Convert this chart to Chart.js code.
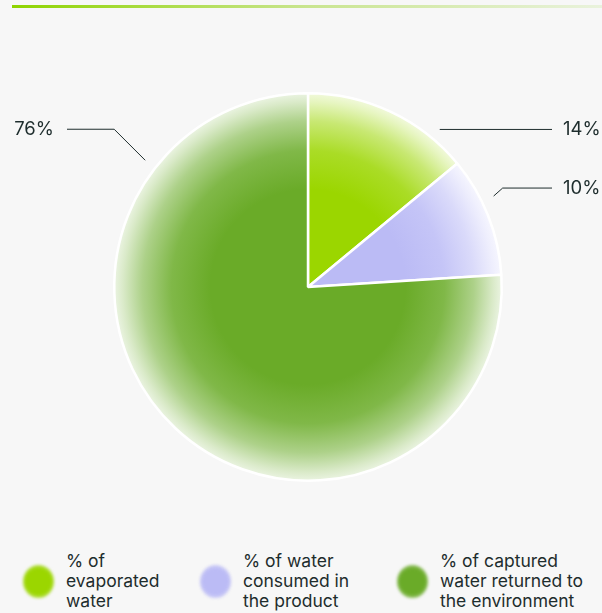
<!DOCTYPE html>
<html>
<head>
<meta charset="utf-8">
<script src="https://cdn.jsdelivr.net/npm/chart.js@4.4.1/dist/chart.umd.min.js"></script>
<style>
  html, body { margin: 0; padding: 0; background: #f7f7f7; }
  body { width: 602px; height: 613px; position: relative; overflow: hidden; font-family: Inter, "Noto Sans", sans-serif; color: #1e2d2d; }
  .topline { position: absolute; left: 12px; top: 5px; width: 590px; height: 3px;
    background: linear-gradient(to right, #8ed400, #c9e58f 50%, #e9f2dc); }
  .chart-box { position: absolute; left: 0; top: 0; width: 602px; height: 530px; }
  .legend { position: absolute; left: 0; top: 551px; width: 602px; }
  .item { position: absolute; top: 0; display: flex; align-items: center; }
  .dot { width: 31px; height: 33px; border-radius: 50%; filter: blur(1.5px); margin-right: 12px; }
  .txt { font-size: 17.5px; line-height: 20px; }
</style>
</head>
<body>
<div class="topline"></div>
<div class="chart-box"><canvas id="waterChart"></canvas></div>
<div class="legend" id="legend"></div>
<script>
// Water balance shares
const categories = ['% of evaporated water', '% of water consumed in the product', '% of captured water returned to the environment'];
const legendLines = [['% of', 'evaporated', 'water'], ['% of water', 'consumed in', 'the product'], ['% of captured', 'water returned to', 'the environment']];
const shares = [14, 10, 76];
const sliceColors = [[155, 214, 0], [187, 187, 245], [106, 171, 40]];

// Where each percentage callout sits: anchor on the rim (angle in degrees, radius factor),
// optional elbow, horizontal run end, and text x
const callouts = [
  { angle: -50.1, k: 1.06, elbow: null, endX: 552, textX: 563, align: 'left' },
  { angle: -26.1, k: 1.067, elbow: [9, -8], endX: 552, textX: 563, align: 'left' },
  { angle: -142.1, k: 1.065, elbow: [-31, -31], endX: 67, textX: 54, align: 'right' }
];

// blend a colour towards white; amount = share of the original colour kept
function toWhite(rgb, amount) {
  const c = rgb.map(v => Math.round(255 - (255 - v) * amount));
  return 'rgb(' + c.join(',') + ')';
}

function sliceFill(context) {
  const chart = context.chart;
  const area = chart.chartArea;
  const rgb = sliceColors[context.dataIndex];
  if (!area) return toWhite(rgb, 1);
  const cx = (area.left + area.right) / 2;
  const cy = (area.top + area.bottom) / 2;
  const r = Math.min(area.width, area.height) / 2;
  const g = chart.ctx.createRadialGradient(cx, cy, 0, cx, cy, r);
  g.addColorStop(0, toWhite(rgb, 1));
  g.addColorStop(0.5, toWhite(rgb, 1));
  g.addColorStop(0.7, toWhite(rgb, 0.85));
  g.addColorStop(0.85, toWhite(rgb, 0.55));
  g.addColorStop(0.95, toWhite(rgb, 0.25));
  g.addColorStop(1, toWhite(rgb, 0.12));
  return g;
}

// Leader lines and percentage labels
const calloutPlugin = {
  id: 'callouts',
  afterDatasetsDraw(chart) {
    const ctx = chart.ctx;
    const arc = chart.getDatasetMeta(0).data[0];
    const cx = arc.x, cy = arc.y, R = arc.outerRadius;
    ctx.save();
    ctx.strokeStyle = '#1e2d2d';
    ctx.lineWidth = 1;
    ctx.fillStyle = '#1e2d2d';
    ctx.font = '18.5px Inter, "Noto Sans", sans-serif';
    ctx.textBaseline = 'middle';
    shares.forEach((v, i) => {
      const c = callouts[i];
      const a = c.angle * Math.PI / 180;
      let x = cx + Math.cos(a) * R * c.k;
      let y = cy + Math.sin(a) * R * c.k;
      ctx.beginPath();
      ctx.moveTo(x, y);
      if (c.elbow) {
        x += c.elbow[0];
        y += c.elbow[1];
        ctx.lineTo(x, y);
      }
      ctx.lineTo(c.endX, y);
      ctx.stroke();
      ctx.textAlign = c.align;
      ctx.fillText(v + '%', c.textX, y);
    });
    ctx.restore();
  }
};

new Chart(document.getElementById('waterChart'), {
  type: 'pie',
  data: {
    labels: categories,
    datasets: [{
      data: shares,
      backgroundColor: sliceFill,
      borderColor: '#ffffff',
      borderWidth: 2.5
    }]
  },
  options: {
    responsive: true,
    maintainAspectRatio: false,
    animation: false,
    layout: { padding: { left: 113, right: 99, top: 92, bottom: 48 } },
    plugins: { legend: { display: false }, tooltip: { enabled: false } }
  },
  plugins: [calloutPlugin]
});

// Legend below the chart
const legendX = [23, 200, 397];
const legend = document.getElementById('legend');
categories.forEach((name, i) => {
  const item = document.createElement('div');
  item.className = 'item';
  item.style.left = legendX[i] + 'px';
  const dot = document.createElement('div');
  dot.className = 'dot';
  const c = sliceColors[i].join(',');
  dot.style.background = 'radial-gradient(circle, rgb(' + c + ') 55%, rgba(' + c + ', 0.5) 85%, rgba(' + c + ', 0) 100%)';
  const txt = document.createElement('div');
  txt.className = 'txt';
  txt.innerHTML = legendLines[i].join('<br>');
  item.appendChild(dot);
  item.appendChild(txt);
  legend.appendChild(item);
});
</script>
</body>
</html>
